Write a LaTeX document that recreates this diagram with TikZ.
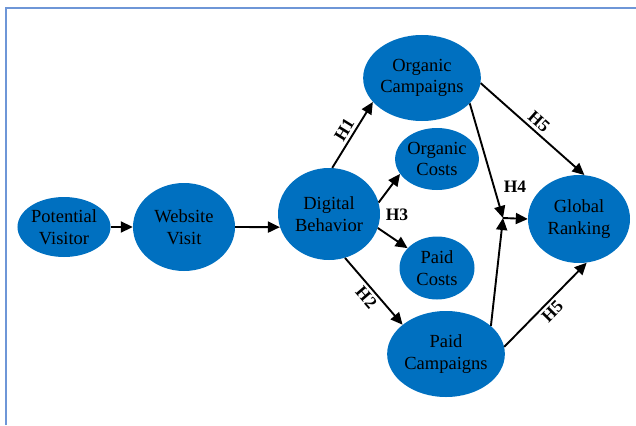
\documentclass[tikz,border=0pt]{standalone}
\usepackage{fontspec}
\setmainfont{Liberation Serif}
\usetikzlibrary{shapes.geometric,arrows.meta}
\definecolor{nodeblue}{RGB}{0,112,192}
\definecolor{framecol}{RGB}{110,150,215}
\begin{document}
\begin{tikzpicture}[x=1pt,y=-1pt,
  ell/.style={ellipse,fill=nodeblue,draw=none,inner sep=0pt,align=center,
    font=\fontsize{18.5}{21.5}\selectfont},
  arr/.style={line width=1.9pt,-{Triangle[length=12pt,width=11pt]}},
  hlab/.style={font=\fontsize{17.5}{18}\selectfont\bfseries,inner sep=3pt}]
\useasboundingbox (0,0) rectangle (636,425);
\draw[framecol,line width=1.5pt] (6,425) -- (6,8) -- (636,8);

\node[ell,minimum width=80pt,minimum height=60pt] (PV) at (64,227) {Potential\\Visitor};
\node[ell,minimum width=102pt,minimum height=88pt] (WV) at (184,227) {Website\\Visit};
\node[ell,minimum width=102pt,minimum height=92pt] (DB) at (329,214) {Digital\\Behavior};
\node[ell,minimum width=102pt,minimum height=86pt] (OC) at (422,78) {Organic\\Campaigns};
\node[ell,minimum width=75pt,minimum height=62pt] (OK) at (437,159) {Organic\\Costs};
\node[ell,minimum width=75pt,minimum height=63pt] (PK) at (437,268) {Paid\\Costs};
\node[ell,minimum width=102pt,minimum height=86pt] (PC) at (446,354) {Paid\\Campaigns};
\node[ell,minimum width=102pt,minimum height=88pt] (GR) at (579,219) {Global\\Ranking};
\coordinate (J) at (503,218);

\draw[arr] (PV.east) -- (WV.west);
\draw[arr] (WV.east) -- (DB.195);
\draw[arr] (DB.86) -- node[hlab,midway,sloped,above] {H1} (OC.206);
\draw[arr] (DB.13) -- (OK.202);
\draw[arr] (DB.344) -- (PK.146);
\draw[arr] (DB.290) -- node[hlab,midway,sloped,below] {H2} (PC.146);
\draw[arr] (OC.332) -- (J);
\draw[arr] (PC.32) -- (J);
\draw[arr] (J) -- (GR.west);
\draw[arr] (OC.355) -- node[hlab,midway,sloped,above] {H5} (GR.83);
\draw[arr] (PC.7) -- node[hlab,midway,sloped,below] {H5} (GR.280);
\node[hlab] (H3) at (397,215) {H3};
\node[hlab] (H4) at (515,187) {H4};
\end{tikzpicture}
\end{document}
